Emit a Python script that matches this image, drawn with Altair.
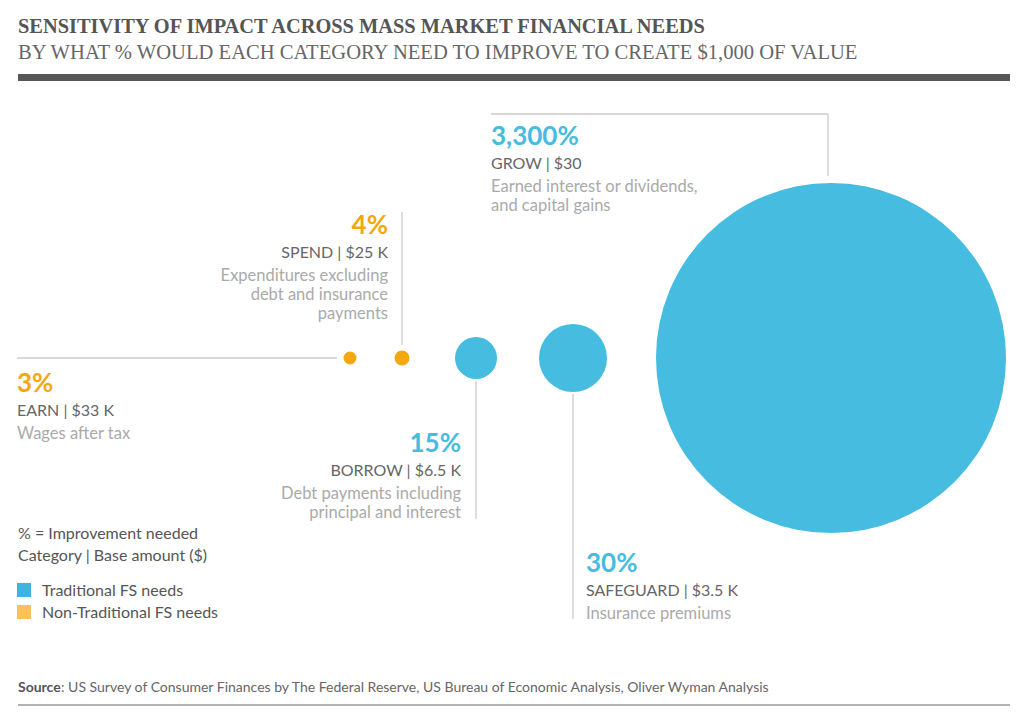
import altair as alt
import pandas as pd

# ---------------- data ----------------
categories = ["EARN", "SPEND", "BORROW", "SAFEGUARD", "GROW"]
improvement_pct = [3, 4, 15, 30, 3300]
pct_labels = ["3%", "4%", "15%", "30%", "3,300%"]
base_amounts = ["$33 K", "$25 K", "$6.5 K", "$3.5 K", "$30"]
descriptions = [
    ["Wages after tax"],
    ["Expenditures excluding", "debt and insurance", "payments"],
    ["Debt payments including", "principal and interest"],
    ["Insurance premiums"],
    ["Earned interest or dividends,", "and capital gains"],
]
need_type = ["Non-Traditional", "Non-Traditional", "Traditional", "Traditional", "Traditional"]

title_text = "SENSITIVITY OF IMPACT ACROSS MASS MARKET FINANCIAL NEEDS"
subtitle_text = "BY WHAT % WOULD EACH CATEGORY NEED TO IMPROVE TO CREATE $1,000 OF VALUE"
legend_notes = ["% = Improvement needed", "Category | Base amount ($)"]
legend_items = ["Traditional FS needs", "Non-Traditional FS needs"]
source_label = "Source"
source_text = ": US Survey of Consumer Finances by The Federal Reserve, US Bureau of Economic Analysis, Oliver Wyman Analysis"

# ---------------- layout (pixel positions, styles) ----------------
W, H = 1008, 707
bubble_x = [350, 402, 476, 573, 831]
bubble_y = 358
label_anchor = [(17, 392, "left"), (388, 234, "right"), (461, 452, "right"),
                (586, 572, "left"), (491, 145, "left")]
connectors = [  # x, y, x2, y2
    (17, 358, 337, 358),
    (402, 212, 402, 345),
    (476, 381, 476, 519),
    (573, 394, 573, 619),
    (491, 114, 828, 114),
    (828, 114, 828, 176),
]
BLUE = "#45BCE0"
ORANGE = "#F4A80F"
SANS = "Lato"

xs = alt.Scale(domain=[8, 8 + W], nice=False, zero=False)
ys = alt.Scale(domain=[8, 8 + H], nice=False, zero=False, reverse=True)


def X(f="x"):
    return alt.X(f, type="quantitative", scale=xs, axis=None)


def Y(f="y"):
    return alt.Y(f, type="quantitative", scale=ys, axis=None)


color_scale = alt.Scale(domain=["Traditional", "Non-Traditional"], range=[BLUE, ORANGE])

# bubbles
bub = pd.DataFrame({
    "category": categories,
    "pct": improvement_pct,
    "kind": need_type,
    "x": bubble_x,
    "y": [bubble_y] * len(categories),
})
bubbles = alt.Chart(bub).mark_circle(opacity=1).encode(
    x=X(), y=Y(),
    size=alt.Size("pct:Q", legend=None,
                  scale=alt.Scale(type="linear", domain=[3, 4, 15, 30, 3300],
                                  range=[169, 225, 1764, 4624, 122500])),
    color=alt.Color("kind:N", scale=color_scale, legend=None),
)

# connector lines
con = pd.DataFrame(connectors, columns=["x", "y", "x2", "y2"])
lines = alt.Chart(con).mark_rule(color="#CCCCCC", strokeWidth=1.3).encode(
    x=X(), y=Y(), x2="x2:Q", y2="y2:Q")

# label texts
rows = []
for i, cat in enumerate(categories):
    ax, ay, al = label_anchor[i]
    rows.append(dict(x=ax, y=ay, text=pct_labels[i], role="pct", anchor=al, kind=need_type[i]))
    rows.append(dict(x=ax, y=ay + 24, text=f"{cat} | {base_amounts[i]}", role="cat", anchor=al, kind=""))
    for j, line in enumerate(descriptions[i]):
        rows.append(dict(x=ax, y=ay + 47 + 19 * j, text=line, role="desc", anchor=al, kind=""))
lab = pd.DataFrame(rows)

layers = [lines, bubbles]
for al in ["left", "right"]:
    d = lab[(lab["anchor"] == al) & (lab["role"] == "pct")]
    layers.append(alt.Chart(d).mark_text(align=al, baseline="alphabetic", font=SANS,
                                         fontSize=26, fontWeight="bold").encode(
        x=X(), y=Y(), text="text:N",
        color=alt.Color("kind:N", scale=color_scale, legend=None)))
    d = lab[(lab["anchor"] == al) & (lab["role"] == "cat")]
    layers.append(alt.Chart(d).mark_text(align=al, baseline="alphabetic", font=SANS,
                                         fontSize=16, color="#666666").encode(
        x=X(), y=Y(), text="text:N"))
    d = lab[(lab["anchor"] == al) & (lab["role"] == "desc")]
    layers.append(alt.Chart(d).mark_text(align=al, baseline="alphabetic", font=SANS,
                                         fontSize=16.5, color="#AAAAAA").encode(
        x=X(), y=Y(), text="text:N"))

# title / subtitle
tt = pd.DataFrame({"x": [18], "y": [33], "text": [title_text]})
layers.append(alt.Chart(tt).mark_text(align="left", baseline="alphabetic", font="Liberation Serif",
                                      fontSize=20.4, fontWeight="bold", color="#555555").encode(
    x=X(), y=Y(), text="text:N"))
st = pd.DataFrame({"x": [18], "y": [59], "text": [subtitle_text]})
layers.append(alt.Chart(st).mark_text(align="left", baseline="alphabetic", font="Liberation Serif",
                                      fontSize=20.6, color="#666666").encode(
    x=X(), y=Y(), text="text:N"))

# header bar and footer rule
bars = pd.DataFrame({"x": [18, 18], "x2": [1010, 1010], "y": [77.5, 705], "y2": [77.5, 705],
                     "w": ["bar", "foot"]})
layers.append(alt.Chart(bars[bars["w"] == "bar"]).mark_rule(color="#575757", strokeWidth=7).encode(
    x=X(), y=Y(), x2="x2:Q", y2="y2:Q"))
layers.append(alt.Chart(bars[bars["w"] == "foot"]).mark_rule(color="#9A9A9A", strokeWidth=1.5).encode(
    x=X(), y=Y(), x2="x2:Q", y2="y2:Q"))

# legend notes
ln = pd.DataFrame({"x": [18, 18], "y": [539, 561], "text": legend_notes})
layers.append(alt.Chart(ln).mark_text(align="left", baseline="alphabetic", font=SANS,
                                      fontSize=16, color="#555555").encode(
    x=X(), y=Y(), text="text:N"))
li = pd.DataFrame({"x": [24, 24], "y": [590, 612], "tx": [42, 42], "ty": [596, 618],
                   "text": legend_items, "c": ["#3DB5DF", "#FDC15B"]})
layers.append(alt.Chart(li).mark_square(size=196, opacity=1).encode(
    x=X(), y=Y(), color=alt.Color("c:N", scale=None)))
layers.append(alt.Chart(li).mark_text(align="left", baseline="alphabetic", font=SANS,
                                      fontSize=16, color="#555555").encode(
    x=X("tx"), y=Y("ty"), text="text:N"))

# source
src = pd.DataFrame({"x": [18], "y": [692], "text": [source_label]})
layers.append(alt.Chart(src).mark_text(align="left", baseline="alphabetic", font=SANS,
                                       fontSize=14, fontWeight="bold", color="#555555").encode(
    x=X(), y=Y(), text="text:N"))
src2 = pd.DataFrame({"x": [61], "y": [692], "text": [source_text]})
layers.append(alt.Chart(src2).mark_text(align="left", baseline="alphabetic", font=SANS,
                                        fontSize=14, color="#666666").encode(
    x=X(), y=Y(), text="text:N"))

chart = alt.layer(*layers).properties(
    width=W, height=H,
    autosize=alt.AutoSizeParams(type="fit", contains="padding"),
    padding=0,
    background="white",
).configure_view(stroke=None).resolve_scale(color="independent")

chart.save("out.html", embed_options={"renderer": "svg", "actions": False})
